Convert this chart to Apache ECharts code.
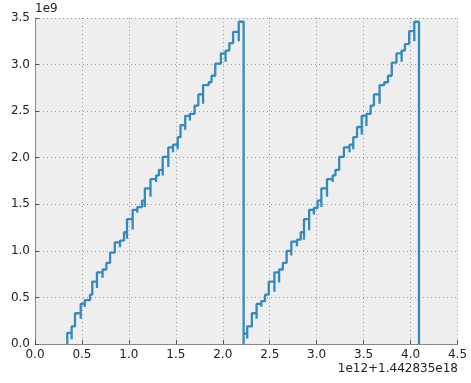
<!DOCTYPE html>
<html>
<head>
<meta charset="utf-8">
<script src="https://cdn.jsdelivr.net/npm/echarts@6/dist/echarts.min.js"></script>
<style>
  html, body { margin: 0; padding: 0; background: #fff; }
  #main { width: 471px; height: 383px; }
</style>
</head>
<body>
<div id="main"></div>
<script>
// x in units of 1e12 (offset 1.442835e18), y in units of 1e9
var riseX = [
  0.344, 0.39, 0.426, 0.487, 0.53, 0.586, 0.61, 0.66, 0.72, 0.76,
  0.80, 0.85, 0.905, 0.948, 0.98, 1.04, 1.09, 1.14, 1.17, 1.23,
  1.29, 1.32, 1.36, 1.42, 1.47, 1.52, 1.55, 1.60, 1.65, 1.70,
  1.74, 1.79, 1.85, 1.88, 1.92, 1.98, 2.03, 2.07, 2.11, 2.17,
  2.222, 2.26, 2.31, 2.36, 2.41, 2.45, 2.49, 2.55, 2.60, 2.64,
  2.68, 2.73, 2.79, 2.83, 2.865, 2.92, 2.97, 3.01, 3.05, 3.11,
  3.17, 3.20, 3.24, 3.29, 3.35, 3.39, 3.43, 3.48, 3.53, 3.575,
  3.61, 3.67, 3.72, 3.76, 3.80, 3.85, 3.905, 3.94, 3.985, 4.04
];
var levels = [
  0.12, 0.19, 0.33, 0.43, 0.47, 0.53, 0.67, 0.77, 0.80, 0.87,
  0.98, 1.09, 1.11, 1.20, 1.34, 1.44, 1.47, 1.54, 1.67, 1.77,
  1.81, 1.87, 2.01, 2.11, 2.14, 2.22, 2.35, 2.45, 2.47, 2.56,
  2.68, 2.78, 2.81, 2.88, 3.01, 3.12, 3.15, 3.23, 3.35, 3.46,
  0.11, 0.19, 0.33, 0.43, 0.46, 0.53, 0.67, 0.77, 0.80, 0.87,
  1.00, 1.10, 1.12, 1.20, 1.34, 1.44, 1.46, 1.54, 1.67, 1.77,
  1.81, 1.87, 2.01, 2.11, 2.14, 2.22, 2.33, 2.45, 2.47, 2.56,
  2.68, 2.78, 2.81, 2.88, 3.02, 3.12, 3.15, 3.22, 3.36, 3.46
];
// low value reached just before each rise
var dips = [
  0.00, 0.05, 0.22, 0.27, 0.40, 0.45, 0.56, 0.60, 0.71, 0.80,
  0.88, 0.99, 1.04, 1.12, 1.13, 1.23, 1.41, 1.47, 1.47, 1.58,
  1.74, 1.80, 1.81, 1.90, 2.06, 2.09, 2.20, 2.30, 2.40, 2.47,
  2.58, 2.58, 2.76, 2.81, 2.91, 3.04, 3.03, 3.15, 3.25, 3.25,
  0.00, 0.06, 0.22, 0.27, 0.40, 0.45, 0.51, 0.56, 0.66, 0.80,
  0.88, 0.95, 1.05, 1.12, 1.12, 1.22, 1.39, 1.46, 1.47, 1.58,
  1.74, 1.80, 1.90, 2.00, 2.06, 2.09, 2.20, 2.25, 2.34, 2.47,
  2.58, 2.58, 2.76, 2.81, 2.91, 3.04, 3.03, 3.15, 3.25, 3.25
];
var endX = 4.09;
var endY = 0;

var xTicks = ['0.0', '0.5', '1.0', '1.5', '2.0', '2.5', '3.0', '3.5', '4.0', '4.5'];
var yTicks = ['0.0', '0.5', '1.0', '1.5', '2.0', '2.5', '3.0', '3.5'];

var pts = [];
for (var i = 0; i < riseX.length; i++) {
  pts.push([riseX[i], dips[i]]);
  pts.push([riseX[i], levels[i]]);
}
pts.push([endX, endY]);

var chart = echarts.init(document.getElementById('main'), null, { renderer: 'canvas' });
var font = 'DejaVu Sans';

var option = {
  animation: false,
  backgroundColor: '#ffffff',
  grid: {
    left: 35, right: 13.5, top: 18, bottom: 39,
    show: true, backgroundColor: '#eeeeee', borderWidth: 0
  },
  xAxis: {
    type: 'value', min: 0, max: 4.5, interval: 0.5,
    axisLine: { show: true, lineStyle: { color: '#888', width: 1 } },
    axisTick: { show: true, inside: true, length: 4, lineStyle: { color: '#555' } },
    axisLabel: {
      color: '#222', fontFamily: font, fontSize: 12, margin: 5,
      formatter: function (v) { return xTicks[Math.round(v / 0.5)]; }
    },
    splitLine: { show: true, lineStyle: { color: '#999', type: [1, 3], width: 1 } }
  },
  yAxis: {
    type: 'value', min: 0, max: 3.5, interval: 0.5,
    axisLine: { show: true, lineStyle: { color: '#888', width: 1 } },
    axisTick: { show: true, inside: true, length: 4, lineStyle: { color: '#555' } },
    axisLabel: {
      color: '#222', fontFamily: font, fontSize: 12, margin: 5,
      formatter: function (v) { return yTicks[Math.round(v / 0.5)]; }
    },
    splitLine: { show: true, lineStyle: { color: '#999', type: [1, 3], width: 1 } }
  },
  series: [{
    type: 'line',
    step: 'end',
    data: pts,
    showSymbol: false,
    lineStyle: { color: '#348ABD', width: 2.3 },
    clip: true
  }],
  graphic: [
    { type: 'text', left: 35, top: 3,
      style: { text: '1e9', font: '12px "DejaVu Sans"', fill: '#222' } },
    { type: 'text', right: 13, top: 363,
      style: { text: '1e12+1.442835e18', font: '12px "DejaVu Sans"', fill: '#222' } }
  ]
};

chart.setOption(option);
</script>
</body>
</html>
